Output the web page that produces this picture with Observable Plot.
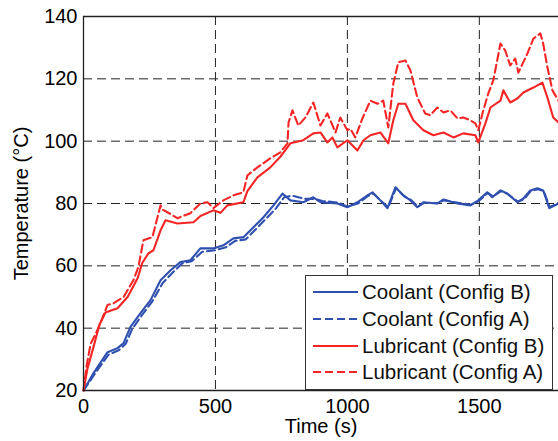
<!DOCTYPE html>
<html>
<head>
<meta charset="utf-8">
<script src="https://cdn.jsdelivr.net/npm/d3@7"></script>
<script src="https://cdn.jsdelivr.net/npm/@observablehq/plot@0.6"></script>
<style>
  html, body { margin: 0; padding: 0; background: #fff; }
  #wrap { position: relative; width: 558px; height: 441px; overflow: hidden; font-family: "Liberation Sans", Arial, sans-serif; }
  #legend { position: absolute; left: 305px; top: 275px; width: 246px; height: 110px; border: 1.2px solid #333; background: #fff; box-sizing: content-box; padding-top: 3px; }
  .row { display: flex; align-items: center; height: 26.7px; font-size: 20.5px; color: #111; white-space: nowrap; }
  .row svg { margin-left: 7px; margin-right: 4px; }
</style>
</head>
<body>
<div id="wrap"><div id="chart"></div><div id="legend"></div></div>
<script>
const xTicks = [0, 500, 1000, 1500];
const yTicks = [20, 40, 60, 80, 100, 120, 140];

const seriesNames = ["Coolant (Config B)", "Coolant (Config A)", "Lubricant (Config B)", "Lubricant (Config A)"];
const seriesColors = ["#3050b0", "#3050b0", "#f52525", "#f52525"];
const seriesDashed = [false, true, false, true];

const coolantBTime = [0,38,91,129,152,178,216,254,292,330,367,405,443,492,530,568,606,644,682,720,754,784,833,871,898,962,1000,1038,1076,1095,1125,1152,1182,1212,1239,1265,1288,1341,1364,1417,1466,1496,1530,1549,1580,1606,1644,1667,1693,1720,1742,1765,1800];
const coolantBTemp = [20,25.6,32.3,33.6,35.2,40.4,44.8,49,55.4,58.6,61.2,61.8,65.6,65.6,66.6,68.8,69.2,72.4,75.6,79.4,83.2,81,80.4,82,80.4,80,78.8,80.4,82.6,83.6,81,78.5,85.2,82.6,81,78.8,80.4,80,81.3,80,79.4,81,83.6,82,84.2,83.2,80.4,81.6,84.2,84.9,84.2,78.5,80];

const coolantATime = [0,40,95,135,160,185,220,260,300,340,375,410,450,500,540,575,615,650,690,730,760,790,840,875,905,965,1000,1040,1078,1098,1128,1155,1185,1215,1240,1268,1290,1340,1366,1420,1468,1498,1532,1552,1582,1608,1646,1670,1695,1722,1744,1767,1800];
const coolantATemp = [20,25,31.5,33,35,39.8,44,48.5,54.5,58,60.8,61.5,64.5,65,66,68,68.5,71.5,75,78.5,82,82.5,81.5,81.5,80.8,80.3,79,80,82.4,83.2,80.8,78.8,85,82.3,81.2,79,80.2,80.1,81,80.2,79.6,80.8,83.4,82.2,84,83,80.6,81.4,84,84.6,84,78.8,80.2];

const lubricantBTime = [0,15,38,60,83,129,167,205,223,246,265,292,311,356,417,443,492,519,545,606,621,659,708,746,784,833,871,898,924,943,962,1000,1038,1061,1087,1125,1155,1174,1193,1220,1250,1288,1326,1364,1402,1439,1485,1496,1523,1542,1580,1591,1617,1644,1667,1705,1739,1758,1780,1800];
const lubricantBTemp = [20,27,34,41,45,46.4,50,56,61,64,65,71.4,74.6,73.6,74,76,77.8,77,79.4,80.4,84,88.4,91.6,95,99.3,100.3,102.5,102.8,99.6,101.2,98,100.3,97,100.3,101.9,102.8,99.3,106.7,112,112,106.7,103.5,101.9,102.8,101.2,102.5,101.9,99.6,105.7,110.8,113,116.3,112.4,113.7,115.6,117.2,118.8,114,107.6,106];

const lubricantATime = [0,12,27,45,64,91,114,152,189,208,227,261,292,300,318,356,405,443,470,492,530,568,606,621,659,708,746,773,777,792,814,841,871,898,924,955,973,1000,1011,1030,1057,1087,1114,1136,1155,1174,1193,1220,1239,1265,1295,1314,1341,1364,1390,1417,1439,1466,1485,1496,1515,1534,1553,1580,1598,1617,1636,1648,1682,1705,1731,1742,1758,1777,1800];
const lubricantATemp = [20,28,35,38,41.6,47.4,48,50,55.4,59.6,68.2,69.2,79.4,78,77.2,75.3,76.9,80,80.4,78.5,81,82.6,83.6,89,91.6,94.5,96.4,99.3,106,109.9,105,107.6,112.4,105,108.9,102.8,107.6,103.5,104,101.2,107.3,113,112,113,104.4,118.5,125.3,125.9,122.7,114,108.9,108.3,110.8,109.2,109.9,107.3,107.6,106.7,105.7,103.5,109.9,115.3,119.5,131.3,129.1,124.3,126.5,122,128.1,132.9,134.6,131.3,123.7,116.3,113];

const times = [coolantBTime, coolantATime, lubricantBTime, lubricantATime];
const temps = [coolantBTemp, coolantATemp, lubricantBTemp, lubricantATemp];
const series = seriesNames.map((name, i) => times[i].map((t, j) => ({t, v: temps[i][j]})));

const font = "'Liberation Sans', Arial, sans-serif";

const lineMarks = series.map((d, i) => Plot.line(d, {
  x: "t", y: "v", stroke: seriesColors[i], strokeWidth: 2.1,
  strokeDasharray: seriesDashed[i] ? "8,4" : null
}));

const chart = Plot.plot({
  width: 558, height: 441,
  marginLeft: 83, marginTop: 16, marginBottom: 51, marginRight: 0,
  x: {domain: [0, 1800]},
  y: {domain: [20, 140]},
  style: {fontFamily: font, fontSize: "20px", color: "#000", background: "#fff", overflow: "visible"},
  marks: [
    Plot.gridX(xTicks, {stroke: "#222", strokeOpacity: 1, strokeWidth: 1, strokeDasharray: "9,5"}),
    Plot.gridY(yTicks, {stroke: "#222", strokeOpacity: 1, strokeWidth: 1, strokeDasharray: "9,5"}),
    ...lineMarks,
    Plot.ruleX([0], {stroke: "#222", strokeWidth: 1.3}),
    Plot.ruleY([20, 140], {stroke: "#222", strokeWidth: 1.3}),
    Plot.axisX(xTicks, {tickSize: 0, tickPadding: 8, tickFormat: d => String(d), label: "Time (s)", labelAnchor: "center", labelArrow: "none", labelOffset: 42, fontSize: 20}),
    Plot.axisY(yTicks, {tickSize: 0, tickPadding: 6, tickFormat: d => String(d), label: "Temperature (°C)", labelAnchor: "center", labelArrow: "none", labelOffset: 70, fontSize: 20})
  ]
});
document.getElementById("chart").appendChild(chart);

const legend = document.getElementById("legend");
seriesNames.forEach((name, i) => {
  const row = document.createElement("div");
  row.className = "row";
  row.innerHTML = `<svg width="45" height="6"><line x1="0" y1="3" x2="45" y2="3" stroke="${seriesColors[i]}" stroke-width="2" ${seriesDashed[i] ? 'stroke-dasharray="8,4"' : ''}/></svg><span>${name}</span>`;
  legend.appendChild(row);
});
</script>
</body>
</html>
